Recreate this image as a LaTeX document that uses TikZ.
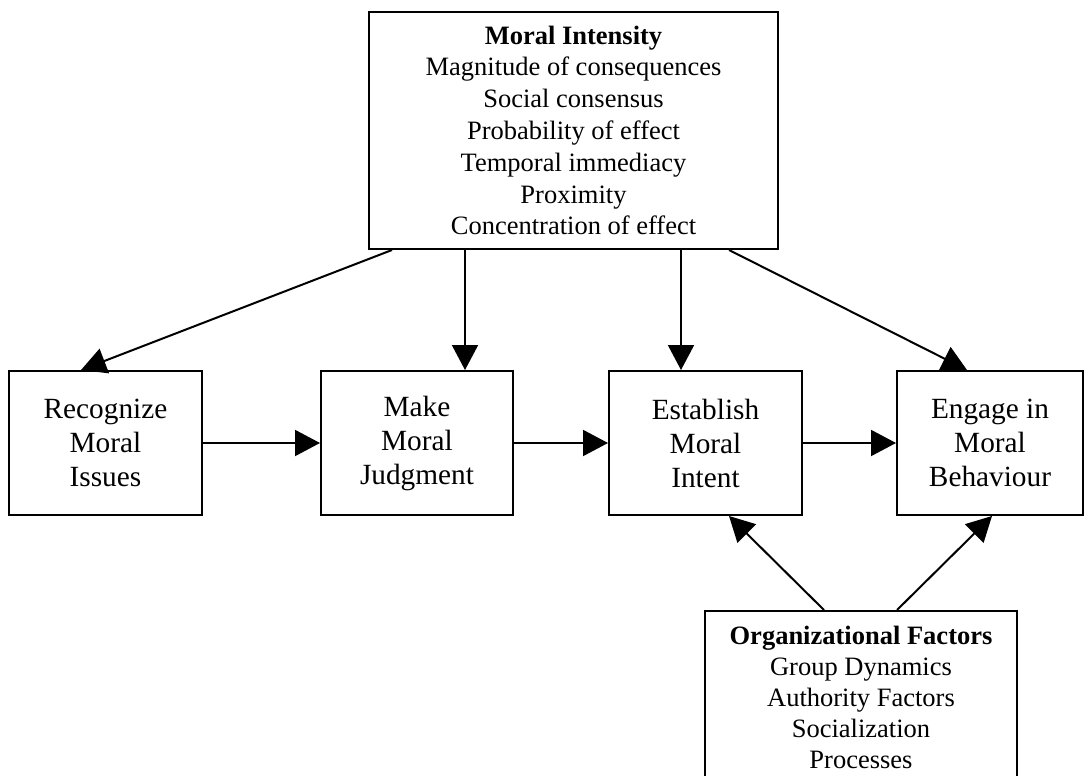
\documentclass[tikz,border=0pt]{standalone}
\usepackage{fontspec}
\setmainfont{Liberation Serif}
\usetikzlibrary{arrows.meta}
\begin{document}
\begin{tikzpicture}[x=1pt,y=-1pt,
  box/.style={draw, line width=2pt, inner sep=0pt, align=center, font=\fontsize{29.3}{34}\selectfont},
  conn/.style={line width=2pt, -{Triangle[length=25pt,width=26pt]}}]
\useasboundingbox (0,0) rectangle (1085,776);
\node[box, minimum width=409pt, minimum height=237pt, font=\fontsize{26.5}{31.8}\selectfont] (mi) at (573.5,130.5)
  {\textbf{Moral Intensity}\\Magnitude of consequences\\Social consensus\\Probability of effect\\Temporal immediacy\\Proximity\\Concentration of effect};
\node[box, minimum width=193pt, minimum height=144pt] (rec) at (105.5,443) {Recognize\\Moral\\Issues};
\node[box, minimum width=192pt, minimum height=144pt] (make) at (417,443) {Make\\Moral\\Judgment};
\node[box, minimum width=193pt, minimum height=144pt] (est) at (705.5,443) {Establish\\Moral\\Intent};
\node[box, minimum width=186pt, minimum height=144pt] (eng) at (990,443) {Engage in\\Moral\\Behaviour};
\node[box, minimum width=312pt, minimum height=170pt] (org) at (861,696) {};
\node[align=center, inner sep=0pt, anchor=north, font=\fontsize{26.5}{31}\selectfont] (orgtext) at (861,626)
  {\textbf{Organizational Factors}\\Group Dynamics\\Authority Factors\\Socialization\\Processes};
\draw[conn] ([xshift=24pt]mi.south west) -- ([xshift=73pt]rec.north west);
\draw[conn] ([xshift=97pt]mi.south west) -- ([xshift=145pt]make.north west);
\draw[conn] ([xshift=313pt]mi.south west) -- ([xshift=73pt]est.north west);
\draw[conn] ([xshift=361pt]mi.south west) -- ([xshift=71pt]eng.north west);
\draw[conn] (rec.east) -- (make.west);
\draw[conn] (make.east) -- (est.west);
\draw[conn] (est.east) -- (eng.west);
\draw[conn] ([xshift=120pt]org.north west) -- ([xshift=121pt]est.south west);
\draw[conn] ([xshift=193pt]org.north west) -- ([xshift=96pt]eng.south west);
\end{tikzpicture}
\end{document}
